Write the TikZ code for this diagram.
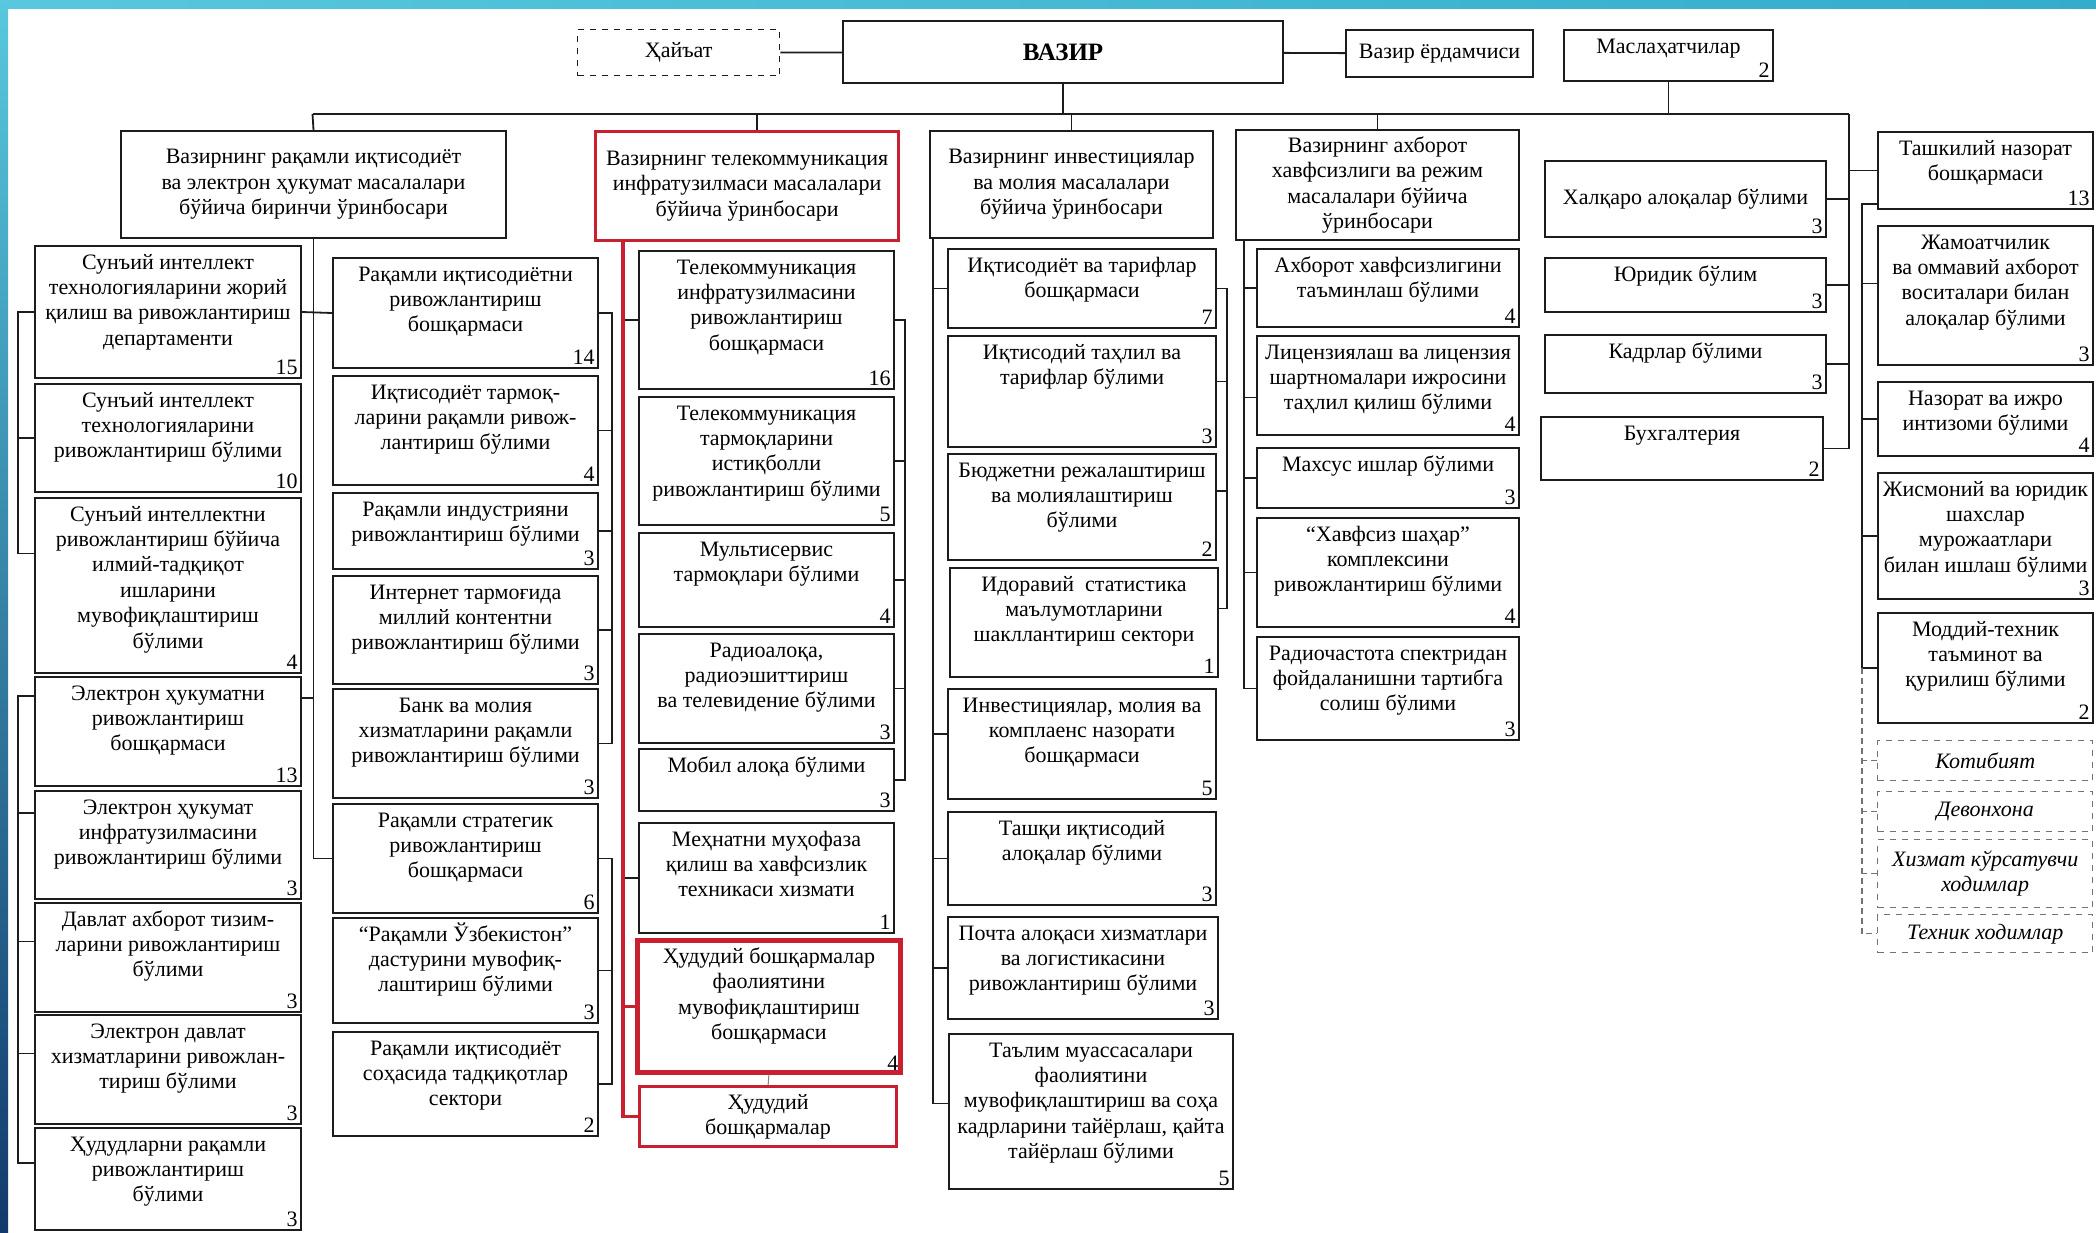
\documentclass[tikz,border=0pt]{standalone}
\usepackage{fontspec}
\setmainfont{Liberation Serif}
\usetikzlibrary{positioning,calc}
\definecolor{linegray}{RGB}{28,28,28}
\definecolor{hlred}{RGB}{200,32,48}
\definecolor{bandcyan}{RGB}{88,200,222}
\definecolor{bandteal}{RGB}{52,172,204}
\definecolor{bandnavy}{RGB}{18,58,108}
\tikzset{
    x=0.5pt,
    y=-0.5pt,
    every node/.style={font=\fontsize{11}{12.7}\selectfont},
    unit/.style 2 args={
        draw=linegray,
        shape=rectangle,
        line width=1pt,
        anchor=north west,
        inner sep=0pt,
        execute at begin node={\begin{minipage}[t][#2][t]{#1}\centering\rule{0pt}{11.5pt}},
        execute at end node={\end{minipage}}
    },
    head/.style 2 args={
        draw=linegray,
        shape=rectangle,
        line width=1pt,
        anchor=north west,
        inner sep=1pt,
        align=center,
        minimum width=#1,
        minimum height=#2
    },
    aux/.style 2 args={
        head={#1}{#2},
        draw=black!55,
        line width=0.7pt,
        dashed,
        font=\fontsize{11}{12.7}\selectfont\itshape
    },
    num/.style={anchor=south east, inner sep=2pt},
    link/.style={draw=linegray, line width=0.9pt},
    bus/.style={draw=linegray, line width=1.4pt},
    redlink/.style={draw=hlred, line width=1.6pt},
    auxlink/.style={draw=black!55, line width=0.7pt, densely dashed}
}

\begin{document}
\begin{tikzpicture}
    % frame
    \useasboundingbox (0,0) rectangle (2096,1232);
    \fill[white] (0,0) rectangle (2096,1232);
    \shade[left color=bandcyan, right color=bandteal] (0,0) rectangle (2096,8);
    \shade[top color=bandcyan, bottom color=bandnavy] (0,0) rectangle (8,1232);

    % top row
    \node[aux={101pt}{23pt}, draw=linegray, font=\fontsize{11}{12.7}\selectfont] (hayat) at (577,29) {Ҳайъат};
    \node[head={220pt}{31pt}, font=\fontsize{12.5}{14}\selectfont\bfseries] (vazir) at (842,20) {ВАЗИР};
    \node[head={93.5pt}{23.5pt}] (yordam) at (1345,29) {Вазир ёрдамчиси};
    \node[unit={104.5pt}{25.5pt}, label={[num]south east:2}] (maslahat) at (1563,29) {Маслаҳатчилар};

    % first deputy
    \node[head={192.5pt}{53.5pt}] (c1hd) at (120,130) {Вазирнинг рақамли иқтисодиёт\\ва электрон ҳукумат масалалари\\бўйича биринчи ўринбосари};
    \node[unit={133pt}{66pt}, label={[num]south east:15}] (c1a) at (34,245) {Сунъий интеллект\\технологияларини жорий\\қилиш ва ривожлантириш\\департаменти};
    \node[unit={133pt}{54pt}, label={[num]south east:10}] (c1b) at (34,383) {Сунъий интеллект\\технологияларини\\ривожлантириш бўлими};
    \node[unit={133pt}{87.5pt}, label={[num]south east:4}] (c1c) at (34,497) {Сунъий интеллектни\\ривожлантириш бўйича\\илмий-тадқиқот\\ишларини\\мувофиқлаштириш\\бўлими};
    \node[unit={133pt}{54.5pt}, label={[num]south east:13}] (c1d) at (34,676) {Электрон ҳукуматни\\ривожлантириш\\бошқармаси};
    \node[unit={133pt}{54pt}, label={[num]south east:3}] (c1e) at (34,790) {Электрон ҳукумат\\инфратузилмасини\\ривожлантириш бўлими};
    \node[unit={133pt}{54.5pt}, label={[num]south east:3}] (c1f) at (34,902) {Давлат ахборот тизим-\\ларини ривожлантириш\\бўлими};
    \node[unit={133pt}{54.5pt}, label={[num]south east:3}] (c1g) at (34,1014) {Электрон давлат\\хизматларини ривожлан-\\тириш бўлими};
    \node[unit={133pt}{51pt}, label={[num]south east:3}] (c1h) at (34,1127) {Ҳудудларни рақамли\\ривожлантириш\\бўлими};

    \node[unit={132.5pt}{55pt}, label={[num]south east:14}] (c2a) at (332,257) {Рақамли иқтисодиётни\\ривожлантириш\\бошқармаси};
    \node[unit={132.5pt}{54.5pt}, label={[num]south east:4}] (c2b) at (332,375) {Иқтисодиёт тармоқ-\\ларини рақамли ривож-\\лантириш бўлими};
    \node[unit={132.5pt}{38pt}, label={[num]south east:3}] (c2c) at (332,492) {Рақамли индустрияни\\ривожлантириш бўлими};
    \node[unit={132.5pt}{54pt}, label={[num]south east:3}] (c2d) at (332,575) {Интернет тармоғида\\миллий контентни\\ривожлантириш бўлими};
    \node[unit={132.5pt}{54.5pt}, label={[num]south east:3}] (c2e) at (332,688) {Банк ва молия\\хизматларини рақамли\\ривожлантириш бўлими};
    \node[unit={132.5pt}{54.5pt}, label={[num]south east:6}] (c2f) at (332,803) {Рақамли стратегик\\ривожлантириш\\бошқармаси};
    \node[unit={132.5pt}{52.5pt}, label={[num]south east:3}] (c2g) at (332,917) {“Рақамли Ўзбекистон”\\дастурини мувофиқ-\\лаштириш бўлими};
    \node[unit={132.5pt}{52pt}, label={[num]south east:2}] (c2h) at (332,1031) {Рақамли иқтисодиёт\\соҳасида тадқиқотлар\\сектори};

    % telecom deputy
    \node[head={151.5pt}{54.5pt}, draw=hlred, line width=1.6pt] (c3hd) at (594,130) {Вазирнинг телекоммуникация\\инфратузилмаси масалалари\\бўйича ўринбосари};
    \node[unit={127.5pt}{69pt}, label={[num]south east:16}] (c3a) at (638,250) {Телекоммуникация\\инфратузилмасини\\ривожлантириш\\бошқармаси};
    \node[unit={127.5pt}{64pt}, label={[num]south east:5}] (c3b) at (638,396) {Телекоммуникация\\тармоқларини\\истиқболли\\ривожлантириш бўлими};
    \node[unit={127.5pt}{47pt}, label={[num]south east:4}] (c3c) at (638,532) {Мультисервис\\тармоқлари бўлими};
    \node[unit={127.5pt}{54.5pt}, label={[num]south east:3}] (c3d) at (638,633) {Радиоалоқа,\\радиоэшиттириш\\ва телевидение бўлими};
    \node[unit={127.5pt}{31pt}, label={[num]south east:3}] (c3e) at (638,748) {Мобил алоқа бўлими};
    \node[unit={127.5pt}{55pt}, label={[num]south east:1}] (c3f) at (638,822) {Меҳнатни муҳофаза\\қилиш ва хавфсизлик\\техникаси хизмати};
    \node[unit={131.5pt}{66pt}, draw=hlred, line width=2.4pt, label={[num]south east:4}] (c3g) at (635,938) {Ҳудудий бошқармалар\\фаолиятини\\мувофиқлаштириш\\бошқармаси};
    \node[head={128.5pt}{30pt}, draw=hlred, line width=1.6pt] (c3h) at (638,1085) {Ҳудудий\\бошқармалар};

    % investment deputy
    \node[head={141.5pt}{53.5pt}] (c4hd) at (929,130) {Вазирнинг инвестициялар\\ва молия масалалари\\бўйича ўринбосари};
    \node[unit={134pt}{39.5pt}, label={[num]south east:7}] (c4a) at (947,248) {Иқтисодиёт ва тарифлар\\бошқармаси};
    \node[unit={134pt}{55.5pt}, label={[num]south east:3}] (c4b) at (947,335) {Иқтисодий таҳлил ва\\тарифлар бўлими};
    \node[unit={134pt}{53pt}, label={[num]south east:2}] (c4c) at (947,453) {Бюджетни режалаштириш\\ва молиялаштириш\\бўлими};
    \node[unit={134pt}{54.5pt}, label={[num]south east:1}] (c4d) at (949,567) {Идоравий\enspace статистика\\маълумотларини\\шакллантириш сектори};
    \node[unit={134pt}{55pt}, label={[num]south east:5}] (c4e) at (947,688) {Инвестициялар, молия ва\\комплаенс назорати\\бошқармаси};
    \node[unit={134pt}{46.5pt}, label={[num]south east:3}] (c4f) at (947,811) {Ташқи иқтисодий\\алоқалар бўлими};
    \node[unit={135pt}{51pt}, label={[num]south east:3}] (c4g) at (947,916) {Почта алоқаси хизматлари\\ва логистикасини\\ривожлантириш бўлими};
    \node[unit={142pt}{77.5pt}, label={[num]south east:5}] (c4h) at (948,1033) {Таълим муассасалари\\фаолиятини\\мувофиқлаштириш ва соҳа\\кадрларини тайёрлаш, қайта\\тайёрлаш бўлими};

    % security deputy
    \node[head={141.5pt}{55pt}] (c5hd) at (1235,129) {Вазирнинг ахборот\\хавфсизлиги ва режим\\масалалари бўйича\\ўринбосари};
    \node[unit={131pt}{39pt}, label={[num]south east:4}] (c5a) at (1256,248) {Ахборот хавфсизлигини\\таъминлаш бўлими};
    \node[unit={131pt}{49.5pt}, label={[num]south east:4}] (c5b) at (1256,335) {Лицензиялаш ва лицензия\\шартномалари ижросини\\таҳлил қилиш бўлими};
    \node[unit={131pt}{30pt}, label={[num]south east:3}] (c5c) at (1256,447) {Махсус ишлар бўлими};
    \node[unit={131pt}{54.5pt}, label={[num]south east:4}] (c5d) at (1256,517) {“Хавфсиз шаҳар”\\комплексини\\ривожлантириш бўлими};
    \node[unit={131pt}{51.5pt}, label={[num]south east:3}] (c5e) at (1256,636) {Радиочастота спектридан\\фойдаланишни тартибга\\солиш бўлими};

    % under minister
    \node[head={140.5pt}{38pt}, label={[num]south east:3}] (c6a) at (1544,160) {Халқаро алоқалар бўлими};
    \node[unit={140.5pt}{27pt}, label={[num]south east:3}] (c6b) at (1544,257) {Юридик бўлим};
    \node[unit={140.5pt}{29pt}, label={[num]south east:3}] (c6c) at (1544,334) {Кадрлар бўлими};
    \node[unit={141pt}{31.5pt}, label={[num]south east:2}] (c6d) at (1540,416) {Бухгалтерия};

    \node[unit={107.5pt}{38.5pt}, label={[num]south east:13}] (c7a) at (1877,131) {Ташкилий назорат\\бошқармаси};
    \node[unit={107.5pt}{69.5pt}, label={[num]south east:3}] (c7b) at (1877,225) {Жамоатчилик\\ва оммавий ахборот\\воситалари билан\\алоқалар бўлими};
    \node[unit={107.5pt}{37pt}, label={[num]south east:4}] (c7c) at (1877,381) {Назорат ва ижро\\интизоми бўлими};
    \node[unit={107.5pt}{63pt}, label={[num]south east:3}] (c7d) at (1877,472) {Жисмоний ва юридик\\шахслар\\мурожаатлари\\билан ишлаш бўлими};
    \node[unit={107.5pt}{55pt}, label={[num]south east:2}] (c7e) at (1877,612) {Моддий-техник\\таъминот ва\\қурилиш бўлими};
    \node[aux={107.5pt}{20pt}] (c7f) at (1877,740) {Котибият};
    \node[aux={107.5pt}{20pt}] (c7g) at (1877,791) {Девонхона};
    \node[aux={107.5pt}{34pt}] (c7h) at (1877,839) {Хизмат кўрсатувчи\\ходимлар};
    \node[aux={107.5pt}{19pt}] (c7i) at (1877,914) {Техник ходимлар};

    % minister links
    \coordinate (busL) at (312.5,114);
    \coordinate (busR) at (1849,114);
    \draw[bus] (busL) -- (busR);
    \draw[link] (hayat) -- (vazir);
    \draw[link] (vazir) -- (yordam);
    \draw[link] (vazir.south) -- (vazir.south |- busL);
    \draw[link] (maslahat.south) -- (maslahat.south |- busL);
    \draw[link] (busL) -- (c1hd.north);
    \draw[link] ([xshift=4.75pt]c3hd.north |- busL) -- ([xshift=4.75pt]c3hd.north);
    \draw[link] (c4hd.north |- busL) -- (c4hd.north);
    \draw[link] (c5hd.north |- busL) -- (c5hd.north);

    % first deputy links
    \draw[link] (c1hd.south) |- (c2f.west);
    \draw[link] (c1a.east) -- (c2a.west);
    \draw[link] ([yshift=-11pt]c1d.north east) -- ([yshift=-11pt]c1d.north east -| c1hd.south);
    \coordinate (c1l) at ([xshift=-8pt]c1a.west);
    \draw[link] (c1a.west) -- (c1l) |- ([yshift=16pt]c1c.west);
    \draw[link] (c1b.west) -- (c1b.west -| c1l);
    \draw[link] ([yshift=-10pt]c1d.north west) -- ([yshift=-10pt]c1d.north west -| c1l) |- ([yshift=8pt]c1h.west);
    \draw[link] ([yshift=16pt]c1e.west) -- ([yshift=16pt]c1e.west -| c1l);
    \draw[link] ([yshift=8pt]c1f.west) -- ([yshift=8pt]c1f.west -| c1l);
    \draw[link] ([yshift=8pt]c1g.west) -- ([yshift=8pt]c1g.west -| c1l);
    \coordinate (c2r) at ([xshift=6.5pt]c2a.east);
    \draw[link] (c2a.east) -- (c2r) |- (c2e.east);
    \draw[link] (c2b.east) -- (c2b.east -| c2r);
    \draw[link] (c2c.east) -- (c2c.east -| c2r);
    \draw[link] (c2d.east) -- (c2d.east -| c2r);
    \draw[link] (c2f.east) -- (c2f.east -| c2r) |- (c2h.east);
    \draw[link] (c2g.east) -- (c2g.east -| c2r);

    % telecom links
    \coordinate (c3t) at ([xshift=14.5pt]c3hd.south west);
    \draw[link] (c3a.west) -- (c3a.west -| c3t);
    \draw[link] (c3f.west) -- (c3f.west -| c3t);
    \draw[redlink] (c3g.west) -- (c3g.west -| c3t);
    \draw[redlink] (c3t) |- (c3h.west);
    \coordinate (c3r) at ([xshift=5pt]c3a.east);
    \draw[link] (c3a.east) -- (c3r) |- (c3e.east);
    \draw[link] (c3b.east) -- (c3b.east -| c3r);
    \draw[link] (c3c.east) -- (c3c.east -| c3r);
    \draw[link] (c3d.east) -- (c3d.east -| c3r);
    \draw[link, draw=black!50, line width=0.5pt] (c3g.south) -- (c3h.north);

    % investment links
    \coordinate (c4t) at ([xshift=2pt]c4hd.south west);
    \draw[link] (c4t) |- ([yshift=4pt]c4h.west);
    \draw[link] (c4a.west) -- (c4a.west -| c4t);
    \draw[link] ([yshift=5pt]c4e.west) -- ([yshift=5pt]c4e.west -| c4t);
    \draw[link] (c4f.west) -- (c4f.west -| c4t);
    \draw[link] (c4g.west) -- (c4g.west -| c4t);
    \coordinate (c4r) at ([xshift=5pt]c4a.east);
    \draw[link] (c4a.east) -- (c4r) |- ([yshift=7pt]c4d.east);
    \draw[link] ([yshift=5pt]c4b.east) -- ([yshift=5pt]c4b.east -| c4r);
    \draw[link] ([yshift=8pt]c4c.east) -- ([yshift=8pt]c4c.east -| c4r);

    % security links
    \coordinate (c5t) at ([xshift=4.5pt]c5hd.south west);
    \draw[link] (c5t) |- (c5e.west);
    \draw[link] (c5a.west) -- (c5a.west -| c5t);
    \draw[link] ([yshift=-6pt]c5b.west) -- ([yshift=-6pt]c5b.west -| c5t);
    \draw[link] (c5c.west) -- (c5c.west -| c5t);
    \draw[link] (c5d.west) -- (c5d.west -| c5t);

    % units under minister
    \draw[link] (busR) |- (c6d.east);
    \draw[link] (c6a.east) -- (c6a.east -| busR);
    \draw[link] (c6b.east) -- (c6b.east -| busR);
    \draw[link] (c6c.east) -- (c6c.east -| busR);
    \draw[link] (c7a.west) -- (c7a.west -| busR);
    \coordinate (c7t) at ([xshift=-7.5pt,yshift=3pt]c7a.south west);
    \draw[link] ([yshift=3pt]c7a.south west) -- (c7t) |- (c7e.west);
    \draw[link] ([yshift=6pt]c7b.west) -- ([yshift=6pt]c7b.west -| c7t);
    \draw[link] (c7c.west) -- (c7c.west -| c7t);
    \draw[link] (c7d.west) -- (c7d.west -| c7t);
    \draw[auxlink] (c7t |- c7e.west) |- (c7i.west);
    \draw[auxlink] (c7f.west) -- (c7f.west -| c7t);
    \draw[auxlink] (c7g.west) -- (c7g.west -| c7t);
    \draw[auxlink] (c7h.west) -- (c7h.west -| c7t);
\end{tikzpicture}
\end{document}
